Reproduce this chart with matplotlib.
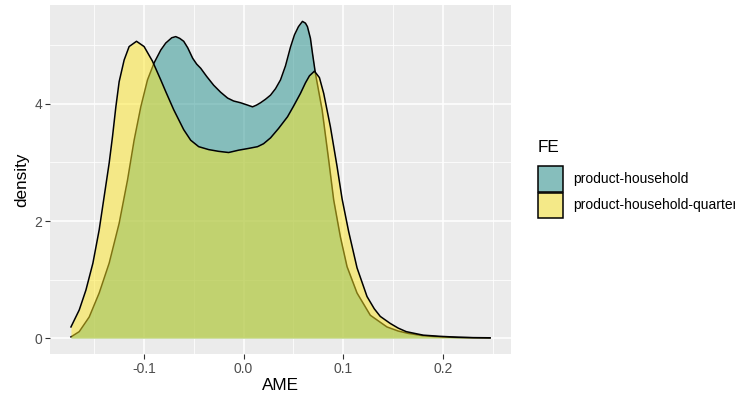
import matplotlib.pyplot as plt
from matplotlib.patches import Rectangle

plt.rcParams['font.family'] = ['Liberation Sans', 'DejaVu Sans']

# density curves (x = AME, y = density)
hh_x = [-0.173, -0.1647, -0.1547, -0.1447, -0.1347, -0.1247, -0.1163, -0.1097, -0.103, -0.0963,
        -0.0897, -0.083, -0.078, -0.072, -0.068, -0.064, -0.060, -0.056, -0.051, -0.047,
        -0.043, -0.037, -0.030, -0.023, -0.016, -0.010, -0.003, 0.004, 0.009, 0.013,
        0.017, 0.022, 0.027, 0.032, 0.037, 0.042, 0.047, 0.051, 0.055, 0.059,
        0.062, 0.064, 0.067, 0.069, 0.072, 0.0787, 0.0853, 0.0903, 0.097, 0.1037,
        0.1137, 0.127, 0.1437, 0.155, 0.165, 0.180, 0.197, 0.215, 0.230, 0.247]
hh_y = [0.02, 0.11, 0.36, 0.77, 1.28, 1.96, 2.70, 3.38, 3.95, 4.41,
        4.70, 4.92, 5.04, 5.13, 5.15, 5.12, 5.07, 4.96, 4.78, 4.68,
        4.61, 4.47, 4.32, 4.20, 4.10, 4.05, 4.02, 3.98, 3.95, 3.98,
        4.02, 4.08, 4.15, 4.26, 4.41, 4.65, 4.97, 5.18, 5.32, 5.41,
        5.38, 5.32, 5.12, 4.87, 4.52, 3.90, 3.04, 2.36, 1.73, 1.22,
        0.77, 0.39, 0.19, 0.12, 0.08, 0.04, 0.02, 0.01, 0.005, 0.002]

hhq_x = [-0.173, -0.1647, -0.158, -0.151, -0.1447, -0.1397, -0.1347, -0.1313, -0.128, -0.1247,
         -0.1197, -0.1147, -0.1073, -0.0997, -0.0913, -0.083, -0.078, -0.070, -0.060, -0.053,
         -0.045, -0.035, -0.025, -0.015, -0.005, 0.005, 0.014, 0.020, 0.027, 0.035,
         0.044, 0.050, 0.057, 0.062, 0.066, 0.071, 0.076, 0.0803, 0.087, 0.0937,
         0.0987, 0.1053, 0.1137, 0.1237, 0.131, 0.137, 0.147, 0.155, 0.163, 0.170,
         0.180, 0.197, 0.215, 0.230, 0.247]
hhq_y = [0.19, 0.48, 0.82, 1.28, 1.85, 2.42, 2.99, 3.45, 3.95, 4.38,
         4.75, 4.98, 5.07, 4.98, 4.73, 4.41, 4.21, 3.90, 3.56, 3.38,
         3.27, 3.22, 3.19, 3.17, 3.21, 3.24, 3.27, 3.32, 3.42, 3.58,
         3.78, 3.96, 4.18, 4.36, 4.48, 4.56, 4.45, 4.18, 3.61, 2.93,
         2.38, 1.82, 1.20, 0.71, 0.50, 0.37, 0.25, 0.17, 0.11, 0.085,
         0.05, 0.03, 0.015, 0.008, 0.005]

labels = ["product-household", "product-household-quarter"]
fills = ["#21908C", "#FDE725"]
key_colors = ["#86BEBC", "#F4E988"]

x_ticks = [-0.1, 0.0, 0.1, 0.2]
x_minor = [-0.15, -0.05, 0.05, 0.15, 0.25]
y_ticks = [0, 2, 4]
y_minor = [1, 3, 5]

fig = plt.figure(figsize=(7.35, 3.96), dpi=100)
ax = fig.add_axes([50/735, 42/396, 461/735, 349/396])
ax.set_facecolor("#EBEBEB")

for xs, ys, c in [(hh_x, hh_y, fills[0]), (hhq_x, hhq_y, fills[1])]:
    ax.fill_between(xs, 0, ys, color=c, alpha=0.5, linewidth=0, zorder=3)
    ax.plot(xs, ys, color="black", linewidth=1.1, zorder=3, solid_joinstyle="round")

ax.set_xlim(-0.194, 0.268)
ax.set_ylim(-0.272, 5.69)
ax.set_xticks(x_ticks)
ax.set_xticklabels(["-0.1", "0.0", "0.1", "0.2"])
ax.set_xticks(x_minor, minor=True)
ax.set_yticks(y_ticks)
ax.set_yticks(y_minor, minor=True)
ax.grid(which="major", color="white", linewidth=1.1, zorder=0)
ax.grid(which="minor", color="white", linewidth=0.55, zorder=0)
ax.set_axisbelow(True)
for s in ax.spines.values():
    s.set_visible(False)
ax.tick_params(which="major", length=3.5, width=0.8, color="#333333",
               labelsize=10, labelcolor="#4D4D4D", pad=2)
ax.tick_params(which="minor", length=0)
ax.set_xlabel("AME", fontsize=12.3, labelpad=2)
ax.set_ylabel("density", fontsize=12.3, labelpad=4)

# legend drawn by hand
fig.text(538/735, 1 - 148/396, "FE", fontsize=12.3, va="center", ha="left")
for i, (lab, kc) in enumerate(zip(labels, key_colors)):
    top = 166 + i * 26.5
    fig.add_artist(Rectangle((538/735, 1 - (top + 25.5)/396), 24.5/735, 25.5/396,
                             facecolor=kc, edgecolor="black", linewidth=1.1,
                             transform=fig.transFigure))
    fig.text(573/735, 1 - (top + 13)/396, lab, fontsize=10, va="center", ha="left")

fig.savefig("out.png", dpi=100)
